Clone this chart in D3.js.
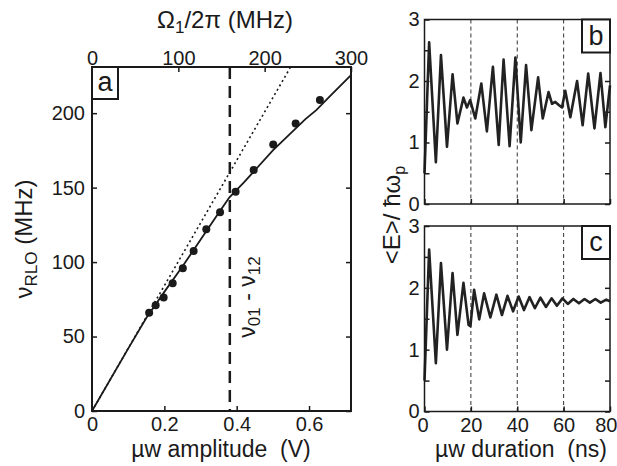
<!DOCTYPE html>
<html>
<head>
<meta charset="utf-8">
<script src="https://cdn.jsdelivr.net/npm/d3@7"></script>
<style>
  body { margin: 0; background: #fff; }
  svg { display: block; font-family: "Liberation Sans", Arial, sans-serif; }
  text { fill: #1a1a1a; white-space: pre; }
</style>
</head>
<body>
<svg id="chart" width="617" height="466"></svg>
<script>
// panel a : measured points (amplitude V, frequency MHz)
var ampV = [0.158, 0.176, 0.198, 0.223, 0.251, 0.281, 0.316, 0.354, 0.397, 0.447, 0.501, 0.563, 0.630];
var rloMHz = [65.9, 71.0, 76.2, 85.8, 95.9, 107.5, 122.1, 133.5, 147.2, 161.8, 179.0, 193.1, 208.8];

// panel a : theory curve (solid) and linear (dotted)
var fitV = [0, 0.10, 0.15, 0.20, 0.25, 0.30, 0.35, 0.38, 0.42, 0.50, 0.59, 0.62, 0.66, 0.716];
var fitMHz = [0, 41.9, 62.5, 80, 97, 115, 133, 143.5, 153.5, 175, 196, 202, 212, 225.6];
var linV = [0, 0.549];
var linMHz = [0, 231];
var resonanceV = 0.381;

var xTicksA = [0, 0.2, 0.4, 0.6];
var xTickLabelsA = ["0", "0.2", "0.4", "0.6"];
var topTicksA = [0, 100, 200, 300];
var yTicksA = [0, 50, 100, 150, 200];

// panels b and c : <E>/hw_p vs duration (ns)
var tB = [0, 2.0, 4.9, 7.1, 9.7, 12.1, 14.2, 16.8, 18.3, 19.7, 21.9, 24.5, 26.9, 29.5, 32, 34.1, 36.7, 39.2, 41.5, 43.8, 46.1, 49, 51, 53.5, 55, 56.4, 57.9, 59.3, 60.7, 62.9, 65.8, 68.2, 70.6, 73.3, 75.9, 78, 80];
var eB = [0.5, 2.63, 0.68, 2.42, 0.93, 2.11, 1.31, 1.73, 1.57, 1.69, 1.39, 1.96, 1.18, 2.23, 0.96, 2.35, 0.94, 2.38, 1.0, 2.26, 1.2, 2.06, 1.39, 1.82, 1.63, 1.66, 1.61, 1.57, 1.84, 1.41, 2.0, 1.28, 2.12, 1.23, 2.13, 1.25, 1.93];

var tC = [0, 2.0, 4.9, 7.1, 9.7, 12.1, 14.2, 16.8, 19.0, 19.8, 21.4, 23.6, 25.7, 28.4, 31.0, 33.4, 35.8, 38.2, 40.6, 42.9, 45.3, 47.6, 50.0, 52.4, 54.8, 57.1, 59.5, 61.8, 64.2, 66.6, 69.0, 71.3, 73.7, 76.0, 78.4, 80];
var eC = [0.5, 2.62, 0.78, 2.40, 1.0, 2.24, 1.24, 2.08, 1.40, 1.38, 1.97, 1.49, 1.91, 1.52, 1.89, 1.56, 1.87, 1.62, 1.86, 1.64, 1.85, 1.67, 1.84, 1.69, 1.83, 1.71, 1.83, 1.74, 1.82, 1.75, 1.82, 1.76, 1.82, 1.76, 1.81, 1.78];

var tTicks = [0, 20, 40, 60, 80];
var gridT = [20, 40, 60];
var eTicks = [0, 0.5, 1, 1.5, 2, 2.5, 3];
var eLabels = [0, 1, 2, 3];

var svg = d3.select("#chart");
var ink = "#1a1a1a";

// ---------- panel a ----------
var xA = d3.scaleLinear().domain([0, 0.716]).range([92, 351]);
var xTop = d3.scaleLinear().domain([0, 300]).range([92, 351]);
var yA = d3.scaleLinear().domain([0, 231]).range([411, 67]);

var gA = svg.append("g");

function innerTicks(g, axis) {
    g.call(axis);
    g.select(".domain").remove();
    g.selectAll(".tick line").attr("stroke", ink).attr("stroke-width", 1.5);
    g.selectAll(".tick text").attr("fill", ink).style("font-size", "20px").attr("font-family", null);
}

gA.append("g").attr("transform", "translate(0,411)")
    .call(innerTicks, d3.axisBottom(xA).tickValues(xTicksA).tickFormat(function (d, i) { return xTickLabelsA[i]; }).tickSizeInner(-5).tickSizeOuter(0).tickPadding(6));
gA.append("g").attr("transform", "translate(0,67)")
    .call(innerTicks, d3.axisTop(xTop).tickValues(topTicksA).tickFormat(d3.format("d")).tickSizeInner(-5).tickSizeOuter(0).tickPadding(2));
gA.append("g").attr("transform", "translate(92,0)")
    .call(innerTicks, d3.axisLeft(yA).tickValues(yTicksA).tickSizeInner(-5).tickSizeOuter(0).tickPadding(7));
gA.append("g").attr("transform", "translate(351,0)")
    .call(innerTicks, d3.axisRight(yA).tickValues(yTicksA).tickFormat("").tickSizeInner(-5).tickSizeOuter(0));

var lineA = d3.line().x(function (d) { return xA(d[0]); }).y(function (d) { return yA(d[1]); });

gA.append("path")
    .attr("d", lineA(d3.zip(linV, linMHz)))
    .attr("fill", "none").attr("stroke", ink).attr("stroke-width", 1.6).attr("stroke-dasharray", "2,3");

gA.append("path")
    .attr("d", lineA(d3.zip(fitV, fitMHz)))
    .attr("fill", "none").attr("stroke", ink).attr("stroke-width", 1.8);

gA.append("line")
    .attr("x1", xA(resonanceV)).attr("x2", xA(resonanceV))
    .attr("y1", yA.range()[1]).attr("y2", yA.range()[0])
    .attr("stroke", ink).attr("stroke-width", 2.5).attr("stroke-dasharray", "12,7");

gA.selectAll(".dot")
    .data(d3.zip(ampV, rloMHz))
    .enter().append("circle")
    .attr("class", "dot")
    .attr("cx", function (d) { return xA(d[0]); })
    .attr("cy", function (d) { return yA(d[1]); })
    .attr("r", 4)
    .attr("fill", ink);

gA.append("rect").attr("x", 92).attr("y", 67).attr("width", 259).attr("height", 344)
    .attr("fill", "none").attr("stroke", ink).attr("stroke-width", 2);

gA.append("rect").attr("x", 92).attr("y", 67).attr("width", 26).attr("height", 32)
    .attr("fill", "#fff").attr("stroke", ink).attr("stroke-width", 2);
gA.append("text").attr("x", 105).attr("y", 91).attr("text-anchor", "middle")
    .style("font-size", "27px").text("a");

// resonance label
var res = gA.append("text")
    .attr("transform", "translate(255,297) rotate(-90)")
    .attr("text-anchor", "middle").style("font-size", "23px");
res.append("tspan").text("\u03bd");
res.append("tspan").attr("baseline-shift", "-28%").style("font-size", "17px").text("01");
res.append("tspan").text(" - \u03bd");
res.append("tspan").attr("baseline-shift", "-28%").style("font-size", "17px").text("12");

// axis titles for a
var yt = gA.append("text")
    .attr("transform", "translate(32,239) rotate(-90)")
    .attr("text-anchor", "middle").style("font-size", "24px");
yt.append("tspan").text("\u03bd");
yt.append("tspan").attr("baseline-shift", "-30%").style("font-size", "17px").text("RLO");
yt.append("tspan").text(" (MHz)");

gA.append("text").attr("x", 221).attr("y", 457).attr("text-anchor", "middle")
    .style("font-size", "23px").text("\u00b5w amplitude  (V)");

var tt = gA.append("text").attr("x", 225).attr("y", 28).attr("text-anchor", "middle")
    .style("font-size", "24px");
tt.append("tspan").text("\u03a9");
tt.append("tspan").attr("baseline-shift", "-30%").style("font-size", "17px").text("1");
tt.append("tspan").text("/2\u03c0 (MHz)");

// ---------- panels b and c ----------
var xT = d3.scaleLinear().domain([0, 80]).range([424.5, 610]);

function drawPanel(top, bottom, ts, es, letter, showX) {
    var y = d3.scaleLinear().domain([0, 3]).range([bottom, top]);
    var g = svg.append("g");

    g.selectAll(".grid").data(gridT).enter().append("line")
        .attr("x1", function (d) { return xT(d); }).attr("x2", function (d) { return xT(d); })
        .attr("y1", top).attr("y2", bottom)
        .attr("stroke", "#333").attr("stroke-width", 1).attr("stroke-dasharray", "4,3");

    g.append("g").attr("transform", "translate(" + xT(0) + ",0)")
        .call(innerTicks, d3.axisLeft(y).tickValues(eTicks).tickFormat(function (d) { return eLabels.indexOf(d) >= 0 ? d : ""; }).tickSizeInner(-5).tickSizeOuter(0).tickPadding(5));
    g.append("g").attr("transform", "translate(" + xT(80) + ",0)")
        .call(innerTicks, d3.axisRight(y).tickValues(eTicks).tickFormat("").tickSizeInner(-5).tickSizeOuter(0));
    var xAxis = g.append("g").attr("transform", "translate(0," + bottom + ")")
        .call(innerTicks, d3.axisBottom(xT).tickValues(tTicks).tickFormat(showX ? d3.format("d") : "").tickSizeInner(-5).tickSizeOuter(0).tickPadding(6));
    // keep the end labels inside the picture, as in the original
    xAxis.selectAll(".tick text").filter(function (d) { return d === 80; })
        .attr("text-anchor", "end").attr("x", 7);
    xAxis.selectAll(".tick text").filter(function (d) { return d === 0; })
        .attr("x", -2);

    var line = d3.line().x(function (d) { return xT(d[0]); }).y(function (d) { return y(d[1]); });
    g.append("path")
        .attr("d", line(d3.zip(ts, es)))
        .attr("fill", "none").attr("stroke", "#222").attr("stroke-width", 2.6)
        .attr("stroke-linejoin", "round");

    g.append("rect").attr("x", xT(0)).attr("y", top).attr("width", xT(80) - xT(0)).attr("height", bottom - top)
        .attr("fill", "none").attr("stroke", ink).attr("stroke-width", 1.5);

    g.append("rect").attr("x", 582).attr("y", top).attr("width", 28).attr("height", 33)
        .attr("fill", "#fff").attr("stroke", ink).attr("stroke-width", 2);
    g.append("text").attr("x", 596).attr("y", top + 25).attr("text-anchor", "middle")
        .style("font-size", "27px").text(letter);
}

drawPanel(19.5, 204, tB, eB, "b", false);
drawPanel(226, 411.5, tC, eC, "c", true);

var el = svg.append("text")
    .attr("transform", "translate(400,215) rotate(-90)")
    .attr("text-anchor", "middle").style("font-size", "24px");
el.append("tspan").text("<E>/ \u0127\u03c9");
el.append("tspan").attr("baseline-shift", "-30%").style("font-size", "16px").text("p");

svg.append("text").attr("x", 521).attr("y", 457).attr("text-anchor", "middle")
    .style("font-size", "23px").text("\u00b5w duration  (ns)");
</script>
</body>
</html>
